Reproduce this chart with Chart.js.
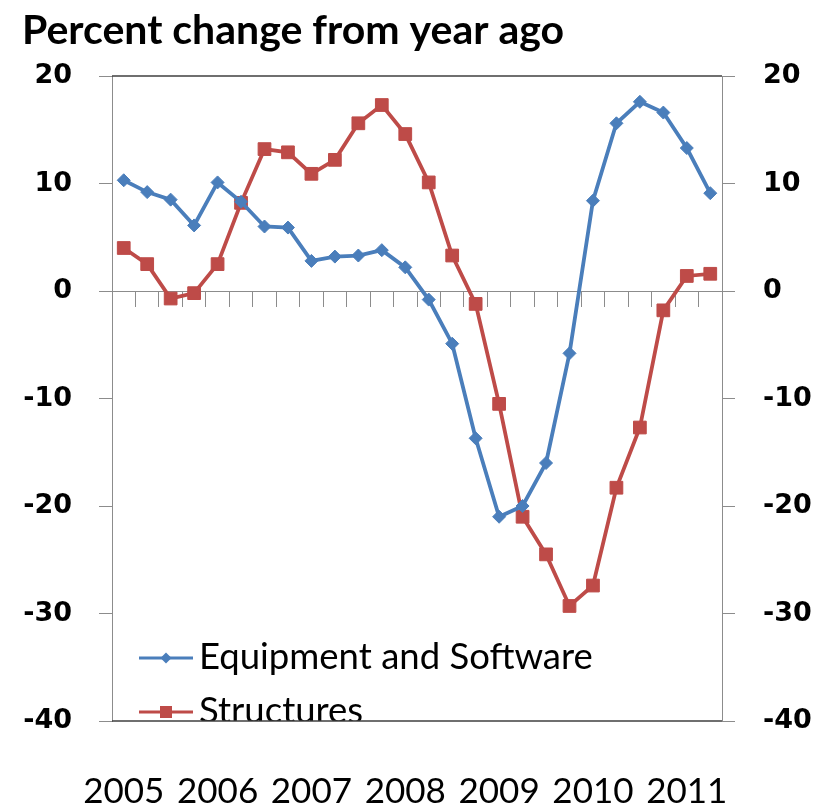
<!DOCTYPE html>
<html>
<head>
<meta charset="utf-8">
<title>Business investment</title>
<script src="https://cdn.jsdelivr.net/npm/chart.js@4.4.0/dist/chart.umd.min.js"></script>
<style>
  html, body { margin: 0; padding: 0; background: #fff; }
  canvas { display: block; }
</style>
</head>
<body>
<canvas id="chart" width="830" height="811"></canvas>
<script>
// quarterly, 2005 Q1 .. 2011 Q2
const quarters = [
  '2005 Q1', '2005 Q2', '2005 Q3', '2005 Q4',
  '2006 Q1', '2006 Q2', '2006 Q3', '2006 Q4',
  '2007 Q1', '2007 Q2', '2007 Q3', '2007 Q4',
  '2008 Q1', '2008 Q2', '2008 Q3', '2008 Q4',
  '2009 Q1', '2009 Q2', '2009 Q3', '2009 Q4',
  '2010 Q1', '2010 Q2', '2010 Q3', '2010 Q4',
  '2011 Q1', '2011 Q2'
];
const yearTicks = ['2005', '2006', '2007', '2008', '2009', '2010', '2011'];

const equipment = [
  10.3, 9.2, 8.5, 6.1,
  10.1, 8.3, 6.0, 5.9,
  2.8, 3.2, 3.3, 3.8,
  2.2, -0.8, -4.9, -13.7,
  -21.0, -20.0, -16.0, -5.8,
  8.4, 15.6, 17.6, 16.6,
  13.3, 9.1
];
const structures = [
  4.0, 2.5, -0.7, -0.2,
  2.5, 8.2, 13.2, 12.9,
  10.9, 12.2, 15.6, 17.3,
  14.6, 10.1, 3.3, -1.2,
  -10.5, -21.0, -24.5, -29.3,
  -27.4, -18.3, -12.7, -1.8,
  1.4, 1.6
];

const yMin = -40;
const yMax = 20;
const yStep = 10;

const BLUE = '#4A7EBB';
const RED = '#BE4B48';
const AXIS_GREY = '#8c8c8c';

// legend sits inside the plot, bottom left, clipped by the frame
const legendInside = {
  id: 'legendInside',
  afterDatasetsDraw(chart) {
    const { ctx, chartArea } = chart;
    const x0 = chartArea.left + 27;
    const x1 = chartArea.left + 81;
    ctx.save();
    ctx.beginPath();
    ctx.rect(chartArea.left, chartArea.top, chartArea.width, chartArea.height);
    ctx.clip();
    chart.data.datasets.forEach((ds, i) => {
      const y = chartArea.bottom - 63 + i * 54;
      ctx.strokeStyle = ds.borderColor;
      ctx.lineWidth = 3;
      ctx.beginPath();
      ctx.moveTo(x0, y);
      ctx.lineTo(x1, y);
      ctx.stroke();
      ctx.fillStyle = ds.borderColor;
      Chart.helpers.drawPoint(ctx, {
        pointStyle: ds.pointStyle,
        radius: ds.pointStyle === 'rect' ? 8.5 : 5.5,
        rotation: 0,
        borderWidth: 0
      }, (x0 + x1) / 2, y);
      ctx.fillStyle = '#000';
      ctx.font = '36.5px Lato';
      ctx.textAlign = 'left';
      ctx.textBaseline = 'alphabetic';
      ctx.fillText(ds.label, x1 + 6, y + 11);
    });
    ctx.restore();
  }
};

// dark top and bottom edges of the plot frame
const frameEdges = {
  id: 'frameEdges',
  afterDraw(chart) {
    const { ctx, chartArea } = chart;
    ctx.save();
    ctx.strokeStyle = '#404040';
    ctx.lineWidth = 1.3;
    ctx.beginPath();
    ctx.moveTo(chartArea.left, chartArea.top);
    ctx.lineTo(chartArea.right, chartArea.top);
    ctx.moveTo(chartArea.left, chartArea.bottom);
    ctx.lineTo(chartArea.right, chartArea.bottom);
    ctx.stroke();
    ctx.restore();
  }
};

const valueAxis = (position, width, pad) => ({
  type: 'linear',
  position,
  min: yMin,
  max: yMax,
  ticks: {
    stepSize: yStep,
    padding: pad,
    color: '#000',
    font: { family: 'DejaVu Sans', size: 27, weight: 'bold' }
  },
  grid: { drawOnChartArea: false, tickLength: 13, color: AXIS_GREY },
  border: { color: AXIS_GREY },
  afterFit(scale) { scale.width = width; }
});

new Chart(document.getElementById('chart'), {
  type: 'line',
  data: {
    labels: quarters,
    datasets: [
      {
        label: 'Equipment and Software',
        data: equipment,
        borderColor: BLUE,
        backgroundColor: BLUE,
        borderWidth: 3.8,
        pointStyle: 'rectRot',
        pointRadius: 6.5,
        pointBorderWidth: 1,
        pointBorderColor: BLUE,
        pointBackgroundColor: BLUE,
        tension: 0
      },
      {
        label: 'Structures',
        data: structures,
        borderColor: RED,
        backgroundColor: RED,
        borderWidth: 3.8,
        pointStyle: 'rect',
        pointRadius: 9,
        pointBorderWidth: 1,
        pointBorderColor: RED,
        pointBackgroundColor: RED,
        tension: 0
      }
    ]
  },
  options: {
    responsive: false,
    animation: false,
    layout: { padding: { left: 22, right: 0, top: 0, bottom: 0 } },
    plugins: {
      legend: { display: false },
      tooltip: { enabled: false },
      title: {
        display: true,
        text: 'Percent change from year ago',
        align: 'start',
        color: '#000',
        font: { family: 'Lato', size: 41, weight: 'bold', lineHeight: 1 },
        padding: { top: 10, bottom: 25 }
      }
    },
    scales: {
      x: {
        type: 'category',
        position: 'bottom',
        offset: true,
        grid: { display: false, drawTicks: false },
        border: { display: false },
        ticks: {
          autoSkip: false,
          maxRotation: 0,
          minRotation: 0,
          padding: 50,
          color: '#000',
          font: { family: 'Lato', size: 35 },
          callback: (value, index) => (index % 4 === 0 ? yearTicks[index / 4] : '')
        },
        afterFit(scale) { scale.height = 90; }
      },
      // zero line with quarter tick marks
      xZero: {
        type: 'category',
        position: { y: 0 },
        offset: true,
        grid: { offset: true, drawOnChartArea: false, tickLength: 15, color: AXIS_GREY },
        border: { color: AXIS_GREY },
        ticks: { display: false }
      },
      y: valueAxis('left', 90, 27),
      y2: valueAxis('right', 108, 28)
    }
  },
  plugins: [legendInside, frameEdges]
});
</script>
</body>
</html>
